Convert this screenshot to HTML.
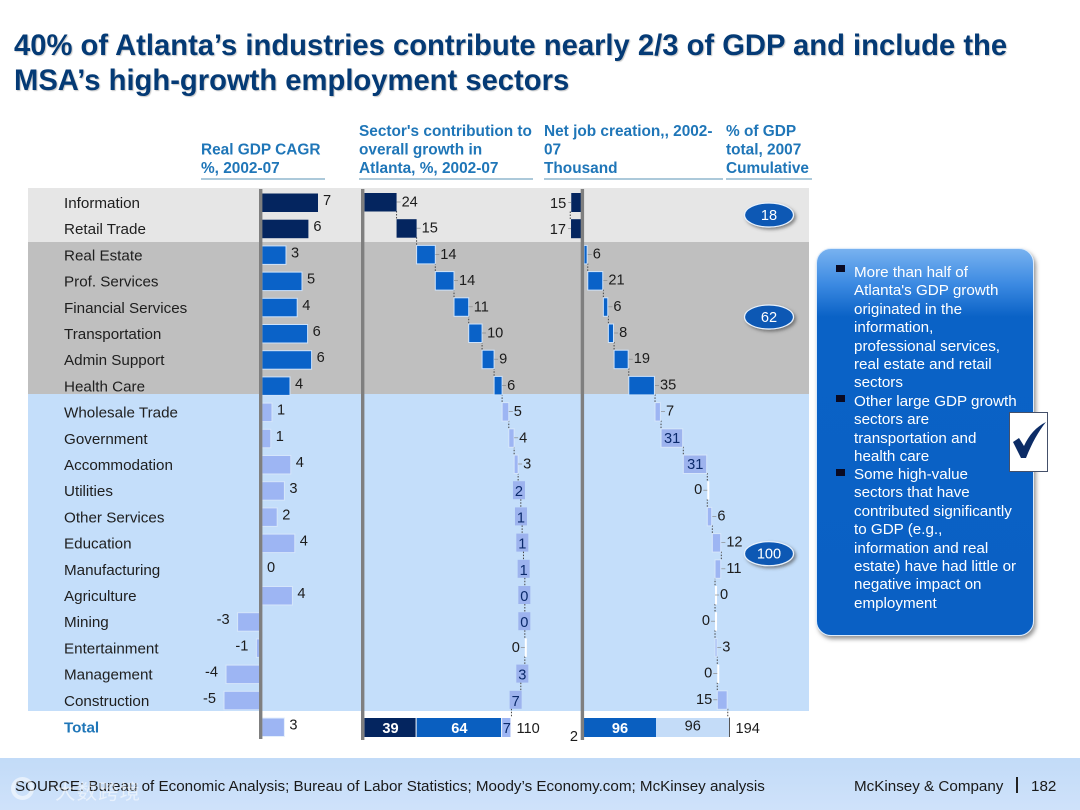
<!DOCTYPE html>
<html lang="en">
<head>
<meta charset="utf-8">
<title>Atlanta industries GDP chart</title>
<style>
html,body{margin:0;padding:0;background:#fff;}
body{width:1080px;height:810px;position:relative;overflow:hidden;font-family:"Liberation Sans","Noto Sans CJK SC",sans-serif;}
#title{position:absolute;left:14px;top:29px;font-size:29.2px;line-height:35px;font-weight:bold;color:#043a75;white-space:nowrap;text-shadow:1px 1px 1px rgba(0,0,0,.22);}
#chart{position:absolute;left:0;top:0;}
#panel{position:absolute;left:816px;top:248px;width:218px;height:388px;box-sizing:border-box;border-radius:15px;background:linear-gradient(#78b2f0 0,#3c8ae2 35px,#0a62c6 68px,#0a60c4 100%);border:1px solid #dcebfb;box-shadow:2px 3px 4px rgba(60,60,60,.55);}
.note{position:absolute;left:37px;color:#fff;font-size:15.2px;line-height:18.4px;white-space:nowrap;}
.bullet{position:absolute;left:19px;width:9px;height:7px;background:#0a0a22;}
#check{position:absolute;left:1009px;top:412px;width:39px;height:60px;box-sizing:border-box;background:#fff;border:1px solid #44506a;}
#footer{position:absolute;left:0;top:758px;width:1080px;height:52px;background:linear-gradient(#c2dbf8,#cfe2fa);}
.foot{position:absolute;top:19.5px;font-size:15.2px;line-height:18px;color:#1a1a1a;white-space:nowrap;}
#divider{position:absolute;left:1016px;top:19px;width:1.5px;height:16px;background:#222;}
#watermark{position:absolute;left:55px;top:24px;font-size:20.5px;line-height:22px;color:rgba(255,255,255,.55);white-space:nowrap;letter-spacing:1px;}
#wm-icon{position:absolute;left:11px;top:19px;width:15px;height:15px;border:4px solid rgba(255,255,255,.55);border-radius:50%;}
</style>
</head>
<body>
<div id="title">40% of Atlanta’s industries contribute nearly 2/3 of GDP and include the<br>MSA’s high-growth employment sectors</div>

<svg id="chart" width="1080" height="810" viewBox="0 0 1080 810" xmlns="http://www.w3.org/2000/svg"></svg>

<div id="panel">
  <div class="bullet" style="top:16px"></div>
  <div class="note" style="top:15px">More than half of<br>Atlanta's GDP growth<br>originated in the<br>information,<br>professional services,<br>real estate and retail<br>sectors</div>
  <div class="bullet" style="top:146px"></div>
  <div class="note" style="top:144px">Other large GDP growth<br>sectors are<br>transportation and<br>health care</div>
  <div class="bullet" style="top:220px"></div>
  <div class="note" style="top:217px">Some high-value<br>sectors that have<br>contributed significantly<br>to GDP (e.g.,<br>information and real<br>estate) have had little or<br>negative impact on<br>employment</div>
</div>
<div id="check">
  <svg width="37" height="58" viewBox="0 0 37 58"><path d="M3 29 L9 25 L14 33 C19 22 26 14 36 9 C28 19 22 30 16 45 L11 45 Z" fill="#0c2c66"/></svg>
</div>
<div id="footer">
  <div class="foot" style="left:15px">SOURCE: Bureau of Economic Analysis; Bureau of Labor Statistics; Moody’s Economy.com; McKinsey analysis</div>
  <div id="wm-icon"></div>
  <div id="watermark">大数跨境</div>
  <div class="foot" style="left:854px">McKinsey &amp; Company</div>
  <div id="divider"></div>
  <div class="foot" style="left:1031px">182</div>
</div>

<script>
// ---- chart data ----
const categories = ["Information","Retail Trade","Real Estate","Prof. Services","Financial Services","Transportation","Admin Support","Health Care","Wholesale Trade","Government","Accommodation","Utilities","Other Services","Education","Manufacturing","Agriculture","Mining","Entertainment","Management","Construction"];
const gdpValues = [7,5.8,3,5,4.4,5.7,6.2,3.5,1.25,1.1,3.6,2.8,1.9,4.1,0,3.8,-3.05,-0.7,-4.5,-4.75];
const gdpLabels = ["7","6","3","5","4","6","6","4","1","1","4","3","2","4","0","4","-3","-1","-4","-5"];
const gdpTotalValue = 2.8;
const gdpTotalLabel = "3";
const contribValues = [24,15,14,14,11,10,9,6,5,4,3,2,1,1,1,0,0,0,-3,-7];
const contribLabels = ["24","15","14","14","11","10","9","6","5","4","3","2","1","1","1","0","0","0","3","7"];
const contribTotals = [39,64,7];
const contribTotalSum = "110";
const jobLeadValues = [-17,-17.3];
const jobValues = [5,20.8,6.7,7.6,19.6,35,8,29.7,32,0,6.7,12,-8.4,0,0,3,0,14];
const jobLabels = ["15","17","6","21","6","8","19","35","7","31","31","0","6","12","11","0","0","3","0","15"];
const jobTotals = [96,98];
const jobTotalLabels = ["96","96"];
const jobTotalSum = "194";
const jobTotalNegative = "2";
const groupSizes = [2,6,12];
const cumulativeLabels = ["18","62","100"];
const headerLines = [["Real GDP CAGR","%, 2002-07"],["Sector's contribution to","overall growth in","Atlanta, %, 2002-07"],["Net job creation,, 2002-","07","Thousand"],["% of GDP","total, 2007","Cumulative"]];

// ---- axis functions ----
const rowY = i => 202.5 + 26.2 * i;
const TOTAL_Y = 727.5;
const xGdp = v => 262 + v * 8;
const xContrib = v => 364.5 + v * 1.336;
const xJob = v => 584 + v * 0.75;

const NS = "http://www.w3.org/2000/svg";
const svg = document.getElementById("chart");
const DARK = "#04255f", MID = "#0a62c8", LIGHT = "#9db5f3", BOX = "#9db3ee";
function mk(tag, attrs, txt){
  const e = document.createElementNS(NS, tag);
  for (const k in attrs) e.setAttribute(k, attrs[k]);
  if (txt !== undefined) e.textContent = txt;
  svg.appendChild(e);
  return e;
}
function fillFor(i){
  if (i < groupSizes[0]) return DARK;
  if (i < groupSizes[0] + groupSizes[1]) return MID;
  return LIGHT;
}
function strokeFor(i){
  if (i < groupSizes[0]) return "none";
  if (i < groupSizes[0] + groupSizes[1]) return "#cfe3fb";
  return "#d6e6fb";
}
const LABEL = {"font-size":"14.6px",fill:"#1c1c1c","font-family":"'Liberation Sans',sans-serif"};

// background bands
const bandColors = ["#e6e6e6","#bfbfbf","#c4defa"];
let bandTop = 188;
groupSizes.forEach((n, g) => {
  const bottom = g === 0 ? 242 : (g === 1 ? 394 : 711);
  const band = mk("rect",{x:28,y:bandTop,width:781,height:bottom-bandTop,fill:bandColors[g]});
  
  
  bandTop = bottom;
});

// column headers
const headerX = [201,359,544,726];
const headerRule = [[201,325],[359,533],[544,723],[726,812]];
headerLines.forEach((lines, c) => {
  lines.forEach((line, j) => {
    const y = 173 - (lines.length - 1 - j) * 18.4;
    const t = mk("text",{x:headerX[c],y:y,"font-size":"15.4px","font-weight":"bold",fill:"#1f76b8","font-family":"'Liberation Sans',sans-serif"},line);
    
    
  });
  const rule = mk("line",{x1:headerRule[c][0],x2:headerRule[c][1],y1:179,y2:179,stroke:"#5a93b5","stroke-width":1});
  
  
});

// category labels
categories.forEach((c, i) => {
  const t = mk("text",{x:64,y:rowY(i)+5.5,"font-size":"15.2px",fill:"#1e1e1e","font-family":"'Liberation Sans',sans-serif"},c);
  
  
});
const totalLabel = mk("text",{x:64,y:TOTAL_Y+5,"font-size":"15.2px","font-weight":"bold",fill:"#1f76b8","font-family":"'Liberation Sans',sans-serif"},"Total");



// GDP CAGR bars
gdpValues.forEach((v, i) => {
  const x0 = Math.min(xGdp(0), xGdp(v)), w = Math.abs(xGdp(v) - xGdp(0));
  if (w > 0) {
    const b = mk("rect",{x:x0,y:rowY(i)-9,width:w,height:18.5,fill:fillFor(i),stroke:strokeFor(i),"stroke-width":1});
    
    
  }
  const neg = v < 0;
  const t = mk("text",Object.assign({x:neg ? xGdp(v)-8 : xGdp(v)+5,y:rowY(i)+2.5,"text-anchor":neg?"end":"start"},LABEL),gdpLabels[i]);
  
  
});
const gdpTot = mk("rect",{x:xGdp(0),y:TOTAL_Y-9.5,width:xGdp(gdpTotalValue)-xGdp(0),height:18.5,fill:LIGHT,stroke:"#e4effc","stroke-width":1});


const gdpTotT = mk("text",Object.assign({x:xGdp(gdpTotalValue)+5,y:TOTAL_Y+2},LABEL),gdpTotalLabel);



// generic waterfall bar drawing
function connector(x, y1, y2){
  const c = mk("line",{x1:x,x2:x,y1:y1,y2:y2,stroke:"#444","stroke-width":1,"stroke-dasharray":"1.5 1.5"});
  
  
}
function leader(x1, x2, y){
  const l = mk("line",{x1:x1,x2:x2,y1:y,y2:y,stroke:"#8a8a8a","stroke-width":0.7});
  
  
}

// Contribution waterfall
const contribInside = new Set([11,12,13,14,15,16,18,19]);
const contribLeft = new Set([17]);
let contribCum = 0;
contribValues.forEach((v, i) => {
  const start = contribCum, end = contribCum + v;
  contribCum = end;
  const xa = Math.min(xContrib(start), xContrib(end));
  const xb = Math.max(xContrib(start), xContrib(end));
  const cy = rowY(i) - 0.5;
  connector(xContrib(end), cy + 9, rowY(i+1) - 9.5);
  if (contribInside.has(i)) {
    const mid = (xa + xb) / 2 - 0.5;
    const b = mk("rect",{x:mid-6,y:cy-9,width:12,height:18,fill:BOX});
    
    
    const t = mk("text",Object.assign({},LABEL,{x:mid,y:cy+6,"text-anchor":"middle",fill:"#0b2a6b"}),contribLabels[i]);
    
    
  } else {
    const b = mk("rect",{x:xa,y:cy-9,width:Math.max(xb-xa,2),height:18.5,fill:v===0?"#ffffff":fillFor(i),stroke:v===0?"none":strokeFor(i),"stroke-width":1});
    
    
    const left = contribLeft.has(i);
    leader(left ? xa-4 : xb, left ? xa : xb+4, cy);
    const t = mk("text",Object.assign({x:left?xa-5:xb+5,y:cy+4.5,"text-anchor":left?"end":"start"},LABEL),contribLabels[i]);
    
    
  }
});
// Contribution totals
const contribFill = [DARK,"#0a5fc0",LIGHT];
const contribText = ["#fff","#fff","#0b2a6b"];
let ctCum = 0;
contribTotals.forEach((v, k) => {
  const xa = xContrib(ctCum), xb = xContrib(ctCum + v);
  ctCum += v;
  const b = mk("rect",{x:xa,y:TOTAL_Y-9.5,width:xb-xa-1,height:19,fill:contribFill[k]});
  
  
  const t = mk("text",Object.assign({},LABEL,{x:(xa+xb)/2,y:TOTAL_Y+5.5,"text-anchor":"middle",fill:contribText[k],"font-weight":k<2?"bold":"normal"}),String(v));
  
  
});
const ctSum = mk("text",Object.assign({x:xContrib(ctCum)+5,y:TOTAL_Y+5.5},LABEL),contribTotalSum);



// Net jobs
const jobLeft = new Set([0,1,11,16,18,19]);
const jobInside = new Set([9,10]);
jobLeadValues.forEach((v, i) => {
  const xa = xJob(v), cy = rowY(i);
  const b = mk("rect",{x:xa,y:cy-9.5,width:xJob(0)-xa,height:19,fill:DARK});
  
  
  leader(xa-3, xa, cy);
  const t = mk("text",Object.assign({x:xa-5,y:cy+5.5,"text-anchor":"end"},LABEL),jobLabels[i]);
  
  
  if (i === 0) connector(xa-1, cy+9, rowY(1)-9);
});
let jobCum = 0;
jobValues.forEach((v, n) => {
  const i = n + jobLeadValues.length;
  const start = jobCum, end = jobCum + v;
  jobCum = end;
  const xa = Math.min(xJob(start), xJob(end));
  const xb = Math.max(xJob(start), xJob(end));
  const cy = rowY(i) - 0.5;
  connector(xJob(end), cy + 9, rowY(i+1) - 9.5);
  const b = mk("rect",{x:xa,y:cy-9,width:Math.max(xb-xa-0.6,2),height:18.5,fill:v===0?"#ffffff":(jobInside.has(i)?BOX:fillFor(i)),stroke:v===0?"none":strokeFor(i),"stroke-width":1});
  
  
  let t;
  if (jobInside.has(i)) {
    t = mk("text",Object.assign({},LABEL,{x:(xa+xb)/2,y:cy+5,"text-anchor":"middle",fill:"#0b2a6b"}),jobLabels[i]);
  } else if (jobLeft.has(i)) {
    leader(xa-4, xa, cy);
    t = mk("text",Object.assign({x:xa-5,y:cy+4,"text-anchor":"end"},LABEL),jobLabels[i]);
  } else {
    leader(xb, xb+4, cy);
    t = mk("text",Object.assign({x:xb+5,y:cy+4,},LABEL),jobLabels[i]);
  }
  
  
});
// Job totals
const jobTotalFill = ["#0a5fc0","#c4dcf8"];
const jobTotalText = ["#fff","#1c1c1c"];
let jtCum = 0;
jobTotals.forEach((v, k) => {
  const xa = xJob(jtCum), xb = xJob(jtCum + v);
  jtCum += v;
  const b = mk("rect",{x:xa,y:TOTAL_Y-9.5,width:xb-xa,height:19,fill:jobTotalFill[k]});
  
  
  const t = mk("text",Object.assign({},LABEL,{x:(xa+xb)/2,y:TOTAL_Y+(k?3:5.5),"text-anchor":"middle",fill:jobTotalText[k],"font-weight":k?"normal":"bold"}),jobTotalLabels[k]);
  
  
});
const jtTick = mk("line",{x1:xJob(jtCum),x2:xJob(jtCum),y1:TOTAL_Y-10,y2:TOTAL_Y+9.5,stroke:"#555","stroke-width":1});


const jtSum = mk("text",Object.assign({x:xJob(jtCum)+6,y:TOTAL_Y+5.5},LABEL),jobTotalSum);


const jtNeg = mk("text",Object.assign({x:578,y:741,"text-anchor":"end"},LABEL),jobTotalNegative);



// Vertical axes
const axisX = [259,361,580.7];
const axisBottom = [739,740,740];
axisX.forEach((x, k) => {
  const a = mk("rect",{x:x,y:189,width:3.4,height:axisBottom[k]-189,fill:"#7f7f7f"});
  
  
});

// Cumulative ovals
const defs = mk("defs",{});
defs.innerHTML = '<filter id="ov" x="-30%" y="-30%" width="170%" height="190%"><feDropShadow dx="2" dy="2" stdDeviation="1.5" flood-color="#444" flood-opacity=".6"/></filter>';
const ovalY = [215,317,553.7];
cumulativeLabels.forEach((l, k) => {
  const o = mk("ellipse",{cx:769,cy:ovalY[k],rx:24.5,ry:12,fill:"#0a58b4",stroke:"#e8f1fc","stroke-width":1.2,filter:"url(#ov)"});
  
  
  const t = mk("text",{x:769,y:ovalY[k]+5,"text-anchor":"middle","font-size":"14.6px",fill:"#fff","font-family":"'Liberation Sans',sans-serif"},l);
  
  
});
</script>
</body>
</html>
